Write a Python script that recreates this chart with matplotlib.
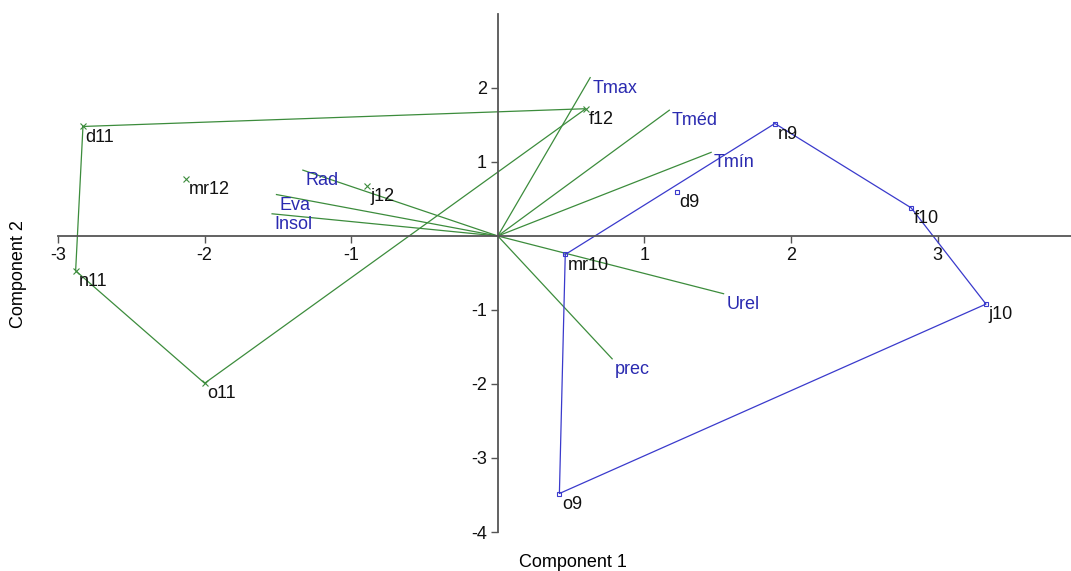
import matplotlib.pyplot as plt

plt.rcParams['font.family'] = ['Liberation Sans', 'DejaVu Sans']
plt.rcParams['axes.unicode_minus'] = False

# Scores, group 1 (green)
g_names = ["d11", "n11", "o11", "f12", "mr12", "j12"]
g_x = [-2.83, -2.88, -2.00, 0.60, -2.13, -0.89]
g_y = [1.48, -0.47, -1.99, 1.72, 0.77, 0.68]
g_hull = ["d11", "f12", "o11", "n11", "d11"]

# Scores, group 2 (blue)
b_names = ["n9", "f10", "d9", "mr10", "j10", "o9"]
b_x = [1.89, 2.82, 1.22, 0.46, 3.33, 0.42]
b_y = [1.52, 0.38, 0.60, -0.25, -0.92, -3.48]
b_hull = ["mr10", "n9", "f10", "j10", "o9", "mr10"]

# Loadings (biplot vectors)
v_names = ["Tmax", "Tméd", "Tmín", "Urel", "prec", "Rad", "Eva", "Insol"]
v_x = [0.63, 1.17, 1.455, 1.54, 0.78, -1.33, -1.51, -1.54]
v_y = [2.14, 1.70, 1.13, -0.78, -1.66, 0.89, 0.56, 0.30]

xticks = [-3, -2, -1, 1, 2, 3]
yticks = [2, 1, -1, -2, -3, -4]

green = "#3c8c3c"
blue = "#3a3acc"
label_blue = "#2a2ab0"

fig = plt.figure(figsize=(10.71, 5.71), dpi=100)
ax = fig.add_axes([0.0542, 0.0683, 0.9458, 0.9072])

# vectors
for n, x, y in zip(v_names, v_x, v_y):
    ax.plot([0, x], [0, y], color=green, lw=0.9)
    ax.annotate(n, (x, y), xytext=(2, -1.5), textcoords="offset points",
                ha="left", va="top", fontsize=13, color=label_blue)

# hulls
gi = {n: i for i, n in enumerate(g_names)}
ax.plot([g_x[gi[n]] for n in g_hull], [g_y[gi[n]] for n in g_hull],
        color=green, lw=0.9)
bi = {n: i for i, n in enumerate(b_names)}
ax.plot([b_x[bi[n]] for n in b_hull], [b_y[bi[n]] for n in b_hull],
        color=blue, lw=0.9)

# points
ax.plot(g_x, g_y, "x", color=green, ms=4, mew=0.8)
ax.plot(b_x, b_y, "s", mfc="none", mec=blue, ms=3.5, mew=0.8)
for n, x, y in zip(g_names + b_names, g_x + b_x, g_y + b_y):
    ax.annotate(n, (x, y), xytext=(2, -1.5), textcoords="offset points",
                ha="left", va="top", fontsize=13, color="#111111")

ax.set_xlim(-3, 3.91)
ax.set_ylim(-4, 3)
ax.spines["left"].set_position(("data", 0))
ax.spines["bottom"].set_position(("data", 0))
ax.spines["top"].set_visible(False)
ax.spines["right"].set_visible(False)
for s in ("left", "bottom"):
    ax.spines[s].set_color("#555555")
    ax.spines[s].set_linewidth(1.3)
ax.set_xticks(xticks)
ax.set_yticks(yticks)
ax.tick_params(colors="#555555", labelcolor="#111111", labelsize=13,
               length=5, width=1, pad=3)

fig.text(0.535, 0.0, "Component 1", ha="center", va="bottom", fontsize=13)
fig.text(0.017, 0.52, "Component 2", ha="center", va="center",
         rotation=90, fontsize=13)

fig.savefig("out.png", dpi=100)
